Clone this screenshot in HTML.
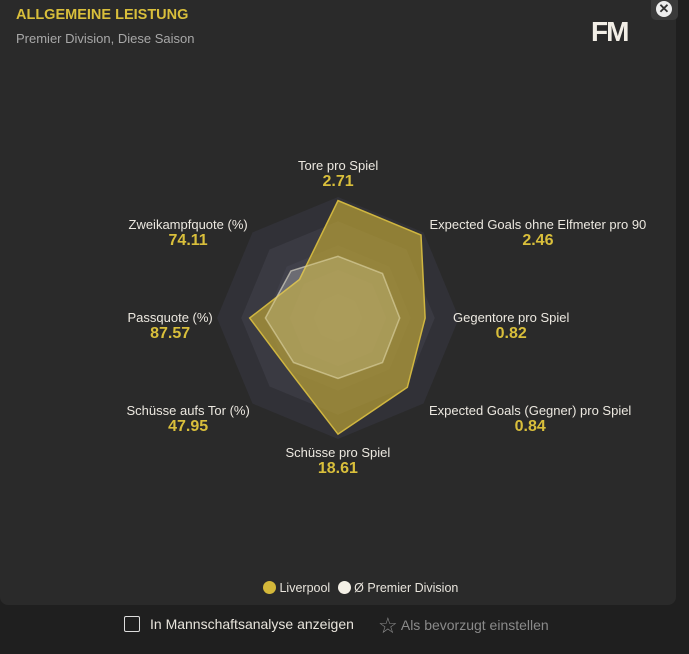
<!DOCTYPE html>
<html><head><meta charset="utf-8">
<style>
body{margin:0;width:689px;height:654px;background:#1f1f1f;font-family:"Liberation Sans",sans-serif;overflow:hidden;position:relative}
#panel{position:absolute;left:0;top:0;width:676px;height:605px;background:#2a2a2a;border-radius:0 0 8px 8px}
.t{position:absolute;color:#ece8e0;font-size:13px;text-align:center;white-space:nowrap}
.v{color:#d9bf3b;font-weight:bold;font-size:16px;display:block;margin-top:0px}
</style></head><body>
<div id="panel"></div>
<div style="position:absolute;left:16px;top:7px;color:#d9bf3b;font-weight:bold;font-size:14.5px">ALLGEMEINE LEISTUNG</div>
<div style="position:absolute;left:16px;top:31px;color:#a8a8a8;font-size:13px">Premier Division, Diese Saison</div>
<div style="position:absolute;left:591px;top:16px;color:#f2eee6;font-weight:900;font-size:28px;letter-spacing:-2px">FM</div>
<div style="position:absolute;left:651px;top:-4px;width:27px;height:24px;background:#3a3a3a;border-radius:5px">
<div style="position:absolute;left:5px;top:5px;width:16px;height:16px;border-radius:50%;background:#eee;color:#333;font-size:13px;line-height:16px;text-align:center;font-weight:bold">✕</div></div>
<svg id="radar" width="689" height="654" style="position:absolute;left:0;top:0"></svg>
<div id="labels"></div>
<div style="position:absolute;left:263px;top:581px;font-size:12.5px;color:#e8e4dc;white-space:nowrap">
<span><span style="display:inline-block;width:13px;height:13px;border-radius:50%;background:#d4b83a;vertical-align:-2px"></span> Liverpool</span>
<span style="margin-left:4px"><span style="display:inline-block;width:13px;height:13px;border-radius:50%;background:#f4f0e6;vertical-align:-2px"></span> Ø Premier Division</span></div>
<div style="position:absolute;left:124px;top:616px;font-size:14px;color:#e8e4dc;white-space:nowrap">
<span style="display:inline-block;width:14px;height:14px;border:1.5px solid #ddd;border-radius:2px;vertical-align:-3px;margin-right:10px"></span>In Mannschaftsanalyse anzeigen</div>
<div style="position:absolute;left:378px;top:613px;font-size:14px;color:#8a8a8a;white-space:nowrap">
<span style="font-size:22px;vertical-align:-3px">☆</span> Als bevorzugt einstellen</div>
<script>
const categories=["Tore pro Spiel","Expected Goals ohne Elfmeter pro 90","Gegentore pro Spiel","Expected Goals (Gegner) pro Spiel","Schüsse pro Spiel","Schüsse aufs Tor (%)","Passquote (%)","Zweikampfquote (%)"];
const valueLabels=["2.71","2.46","0.82","0.84","18.61","47.95","87.57","74.11"];
const liverpool=[0.97,0.97,0.72,0.81,0.96,0.59,0.73,0.45];
const average=[0.51,0.52,0.51,0.52,0.5,0.52,0.6,0.55];
const ringLevels=[1,0.8,0.6,0.4,0.2];
const labelPos=[[338,158],[538,217],[511,310],[530,403],[338,445],[188,403],[170,310],[188,217]];
const cx=338,cy=318,R=121;
const NS="http://www.w3.org/2000/svg";
const svg=document.getElementById('radar');
function pt(i,r){const a=i*Math.PI/4;return [cx+Math.sin(a)*r*R,cy-Math.cos(a)*r*R];}
function poly(vals){return vals.map((v,i)=>pt(i,v).join(',')).join(' ');}
const ringColors=["#313137","#3a3a42","#40404a","#46464f","#4b4b54"];
ringLevels.forEach((l,k)=>{const p=document.createElementNS(NS,'polygon');
p.setAttribute('points',poly(categories.map(()=>l)));p.setAttribute('fill',ringColors[k]);


svg.appendChild(p);});
const a=document.createElementNS(NS,'polygon');
a.setAttribute('points',poly(average));a.setAttribute('fill','rgba(200,200,230,0.18)');a.setAttribute('stroke','rgba(220,220,230,0.4)');a.setAttribute('stroke-width','1.5');


svg.appendChild(a);
const l=document.createElementNS(NS,'polygon');
l.setAttribute('points',poly(liverpool));l.setAttribute('fill','rgba(190,165,55,0.68)');l.setAttribute('stroke','#d0b640');l.setAttribute('stroke-width','1.5');


svg.appendChild(l);
const a2=document.createElementNS(NS,'polygon');
a2.setAttribute('points',poly(average));a2.setAttribute('fill','rgba(255,255,220,0.12)');a2.setAttribute('stroke','rgba(230,225,190,0.4)');a2.setAttribute('stroke-width','1.5');


svg.appendChild(a2);
const lab=document.getElementById('labels');
categories.forEach((c,i)=>{const d=document.createElement('div');d.className='t';


d.innerHTML=c+'<span class="v">'+valueLabels[i]+'</span>';
lab.appendChild(d);const w=d.offsetWidth;d.style.left=(labelPos[i][0]-w/2)+'px';d.style.top=labelPos[i][1]+'px';});
</script>
</body></html>
